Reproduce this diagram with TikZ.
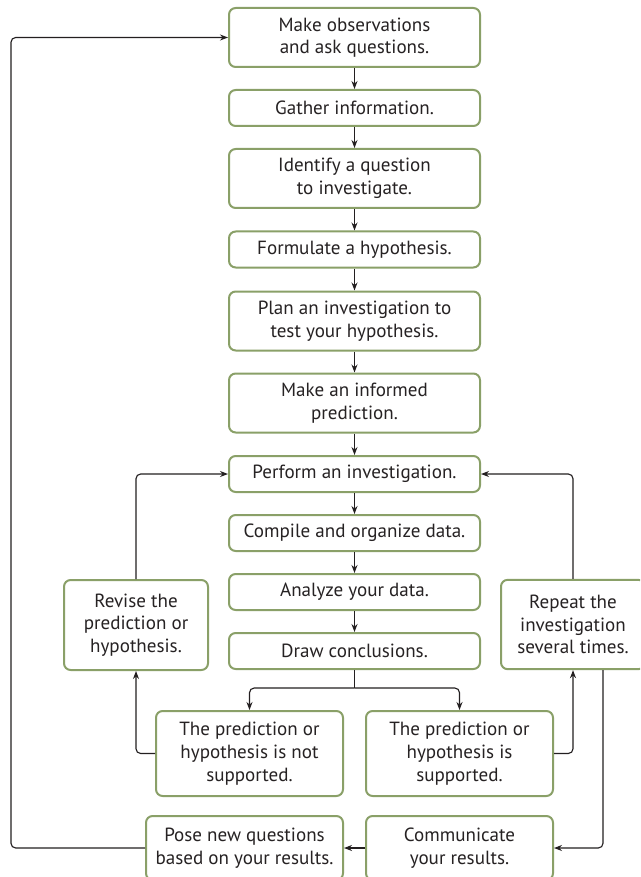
\documentclass[tikz,border=0pt]{standalone}
\usepackage{fontspec}
\setmainfont{PT Sans}
\usetikzlibrary{arrows.meta,calc}
\definecolor{boxgreen}{RGB}{138,160,104}
\definecolor{txt}{RGB}{38,34,35}
\definecolor{lin}{RGB}{35,31,32}
\tikzset{
  box/.style={draw=boxgreen, line width=1.5pt, rounded corners=5pt, align=center, inner sep=0pt, text=txt, fill=white,
    font=\fontsize{14.3pt}{17pt}\selectfont},
  mainbox/.style={box, minimum width=188.25pt},
  tallbox/.style={minimum height=44.25pt},
  shortbox/.style={minimum height=27pt},
  arr/.style={draw=lin, line width=0.85pt, rounded corners=3.5pt, -{Stealth[length=6pt,width=4.5pt]}},
  ln/.style={draw=lin, line width=0.85pt, rounded corners=3.5pt}
}
\begin{document}
\begin{tikzpicture}[x=0.75pt,y=-0.75pt]
\clip (0,0) rectangle (640,877);
\fill[white] (0,0) rectangle (640,877);
\node[mainbox,tallbox] (obs) at (354.5,37.5) {Make observations\\and ask questions.};
\node[mainbox,shortbox] (gath) at (354.5,108) {Gather information.};
\node[mainbox,tallbox] (iden) at (354.5,178.5) {Identify a question\\to investigate.};
\node[mainbox,shortbox] (form) at (354.5,249.5) {Formulate a hypothesis.};
\node[mainbox,tallbox] (plan) at (354.5,321) {Plan an investigation to\\test your hypothesis.};
\node[mainbox,tallbox] (pred) at (354.5,403) {Make an informed\\prediction.};
\node[mainbox,shortbox] (perf) at (354.5,474) {Perform an investigation.};
\node[mainbox,shortbox] (comp) at (354.5,533) {Compile and organize data.};
\node[mainbox,shortbox] (anal) at (354.5,592) {Analyze your data.};
\node[mainbox,shortbox] (dc) at (354.5,651) {Draw conclusions.};
\node[box,minimum width=108pt,minimum height=67.5pt] (rev) at (136,625) {Revise the\\prediction or\\hypothesis.};
\node[box,minimum width=108pt,minimum height=67pt] (rep) at (573,624.5) {Repeat the\\investigation\\several times.};
\node[box,minimum width=140.25pt,minimum height=63.75pt] (nots) at (249.5,753.5) {The prediction or\\hypothesis is not\\supported.};
\node[box,minimum width=140.25pt,minimum height=63.75pt] (sup) at (459.5,753.5) {The prediction or\\hypothesis is\\supported.};
\node[box,minimum width=147.75pt,minimum height=48pt] (pose) at (244.5,848) {Pose new questions\\based on your results.};
\node[box,minimum width=140.25pt,minimum height=48pt] (comm) at (459.5,848) {Communicate\\your results.};

\draw[arr] (obs.south) -- (gath.north);
\draw[arr] (gath.south) -- (iden.north);
\draw[arr] (iden.south) -- (form.north);
\draw[arr] (form.south) -- (plan.north);
\draw[arr] (plan.south) -- (pred.north);
\draw[arr] (pred.south) -- (perf.north);
\draw[arr] (perf.south) -- (comp.north);
\draw[arr] (comp.south) -- (anal.north);
\draw[arr] (anal.south) -- (dc.north);

\draw[ln] (dc.south) -- ++(0,18) coordinate (split);
\draw[arr] (split) -| (nots.north);
\draw[arr] (split) -| (sup.north);

\draw[arr] (nots.west) -| (rev.south);
\draw[arr] (rev.north) |- (perf.west);
\draw[arr] (sup.east) -| (rep.south);
\draw[arr] (rep.north) |- (perf.east);
\draw[arr] ([xshift=22.5pt]rep.south) |- (comm.east);
\draw[arr] (comm.west) -- (pose.east);
\draw[arr] (pose.west) -- ++(-134,0) |- (obs.west);
\end{tikzpicture}
\end{document}
